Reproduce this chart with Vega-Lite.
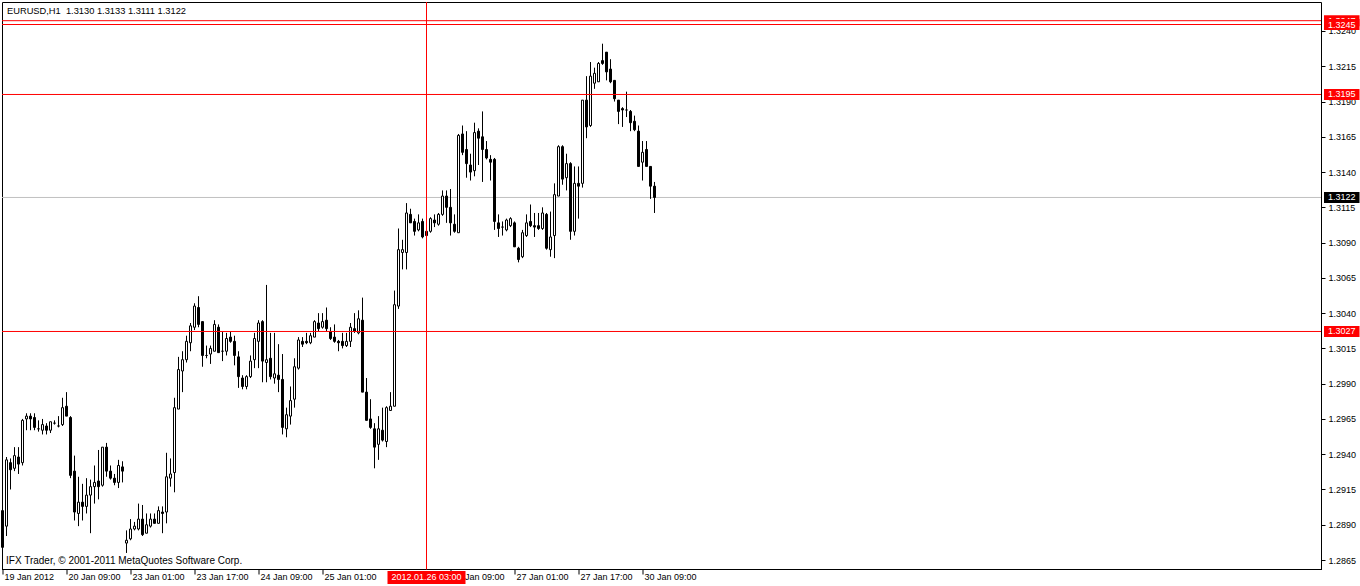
{
"$schema": "https://vega.github.io/schema/vega-lite/v6.json",
"width": 1319,
"height": 567.5,
"autosize": {"type": "none"},
"padding": {"left": 2, "top": 2, "right": 39, "bottom": 17},
"background": "white",
"config": {"view": {"stroke": null}, "scale": {"continuousPadding": 0}},
"datasets": {
"bars": [
{"i":0,"o":1.2900,"h":1.2904,"l":1.2870,"c":1.2874},
{"i":1,"o":1.2889,"h":1.2938,"l":1.2882,"c":1.2936},
{"i":2,"o":1.2934,"h":1.2937,"l":1.2915,"c":1.2929},
{"i":3,"o":1.2930,"h":1.2945,"l":1.2928,"c":1.2939},
{"i":4,"o":1.2938,"h":1.2945,"l":1.2926,"c":1.2933},
{"i":5,"o":1.2934,"h":1.2965,"l":1.2932,"c":1.2964},
{"i":6,"o":1.2965,"h":1.2969,"l":1.2957,"c":1.2967},
{"i":7,"o":1.2967,"h":1.2969,"l":1.2957,"c":1.2965},
{"i":8,"o":1.2966,"h":1.2969,"l":1.2957,"c":1.2959},
{"i":9,"o":1.2958,"h":1.2964,"l":1.2956,"c":1.2958},
{"i":10,"o":1.2957,"h":1.2965,"l":1.2954,"c":1.2961},
{"i":11,"o":1.2960,"h":1.2962,"l":1.2954,"c":1.2957},
{"i":12,"o":1.2957,"h":1.2963,"l":1.2955,"c":1.2963},
{"i":13,"o":1.2962,"h":1.2964,"l":1.2961,"c":1.2962},
{"i":14,"o":1.2960,"h":1.2967,"l":1.2959,"c":1.2960},
{"i":15,"o":1.2961,"h":1.2980,"l":1.2960,"c":1.2973},
{"i":16,"o":1.2974,"h":1.2984,"l":1.2967,"c":1.2967},
{"i":17,"o":1.2966,"h":1.2967,"l":1.2923,"c":1.2925},
{"i":18,"o":1.2928,"h":1.2939,"l":1.2893,"c":1.2899},
{"i":19,"o":1.2898,"h":1.2924,"l":1.2889,"c":1.2906},
{"i":20,"o":1.2906,"h":1.2919,"l":1.2893,"c":1.2903},
{"i":21,"o":1.2903,"h":1.2923,"l":1.2898,"c":1.2911},
{"i":22,"o":1.2911,"h":1.2922,"l":1.2884,"c":1.2917},
{"i":23,"o":1.2917,"h":1.2932,"l":1.2905,"c":1.2920},
{"i":24,"o":1.2921,"h":1.2943,"l":1.2908,"c":1.2917},
{"i":25,"o":1.2918,"h":1.2945,"l":1.2917,"c":1.2945},
{"i":26,"o":1.2945,"h":1.2948,"l":1.2924,"c":1.2928},
{"i":27,"o":1.2928,"h":1.2932,"l":1.2922,"c":1.2923},
{"i":28,"o":1.2923,"h":1.2926,"l":1.2918,"c":1.2920},
{"i":29,"o":1.2920,"h":1.2936,"l":1.2916,"c":1.2932},
{"i":30,"o":1.2931,"h":1.2935,"l":1.2920,"c":1.2928},
{"i":31,"o":1.2877,"h":1.2886,"l":1.2870,"c":1.2879},
{"i":32,"o":1.2880,"h":1.2894,"l":1.2879,"c":1.2887},
{"i":33,"o":1.2887,"h":1.2892,"l":1.2886,"c":1.2889},
{"i":34,"o":1.2887,"h":1.2905,"l":1.2886,"c":1.2894},
{"i":35,"o":1.2894,"h":1.2904,"l":1.2882,"c":1.2883},
{"i":36,"o":1.2884,"h":1.2898,"l":1.2884,"c":1.2890},
{"i":37,"o":1.2889,"h":1.2898,"l":1.2888,"c":1.2894},
{"i":38,"o":1.2894,"h":1.2898,"l":1.2891,"c":1.2891},
{"i":39,"o":1.2891,"h":1.2903,"l":1.2891,"c":1.2900},
{"i":40,"o":1.2899,"h":1.2903,"l":1.2884,"c":1.2898},
{"i":41,"o":1.2899,"h":1.2941,"l":1.2891,"c":1.2924},
{"i":42,"o":1.2923,"h":1.2937,"l":1.2917,"c":1.2926},
{"i":43,"o":1.2927,"h":1.2980,"l":1.2913,"c":1.2973},
{"i":44,"o":1.2972,"h":1.3009,"l":1.2972,"c":1.3000},
{"i":45,"o":1.2999,"h":1.3013,"l":1.2984,"c":1.3007},
{"i":46,"o":1.3007,"h":1.3024,"l":1.3005,"c":1.3020},
{"i":47,"o":1.3019,"h":1.3033,"l":1.3013,"c":1.3031},
{"i":48,"o":1.3030,"h":1.3047,"l":1.3028,"c":1.3045},
{"i":49,"o":1.3044,"h":1.3052,"l":1.3030,"c":1.3032},
{"i":50,"o":1.3034,"h":1.3034,"l":1.3002,"c":1.3010},
{"i":51,"o":1.3010,"h":1.3017,"l":1.3008,"c":1.3010},
{"i":52,"o":1.3011,"h":1.3017,"l":1.3004,"c":1.3015},
{"i":53,"o":1.3013,"h":1.3035,"l":1.3013,"c":1.3032},
{"i":54,"o":1.3030,"h":1.3032,"l":1.3012,"c":1.3012},
{"i":55,"o":1.3013,"h":1.3027,"l":1.3006,"c":1.3013},
{"i":56,"o":1.3013,"h":1.3026,"l":1.3010,"c":1.3022},
{"i":57,"o":1.3023,"h":1.3027,"l":1.3019,"c":1.3020},
{"i":58,"o":1.3020,"h":1.3024,"l":1.3003,"c":1.3010},
{"i":59,"o":1.3009,"h":1.3013,"l":1.2987,"c":1.2995},
{"i":60,"o":1.2994,"h":1.2996,"l":1.2986,"c":1.2988},
{"i":61,"o":1.2988,"h":1.2996,"l":1.2986,"c":1.2995},
{"i":62,"o":1.2995,"h":1.3010,"l":1.2994,"c":1.3006},
{"i":63,"o":1.3007,"h":1.3026,"l":1.3001,"c":1.3022},
{"i":64,"o":1.3020,"h":1.3035,"l":1.3001,"c":1.3033},
{"i":65,"o":1.3034,"h":1.3035,"l":1.2991,"c":1.3006},
{"i":66,"o":1.3005,"h":1.3060,"l":1.2991,"c":1.3007},
{"i":67,"o":1.3008,"h":1.3026,"l":1.2993,"c":1.2995},
{"i":68,"o":1.2994,"h":1.3026,"l":1.2990,"c":1.2997},
{"i":69,"o":1.2996,"h":1.3018,"l":1.2984,"c":1.2993},
{"i":70,"o":1.2993,"h":1.3011,"l":1.2954,"c":1.2959},
{"i":71,"o":1.2958,"h":1.2973,"l":1.2952,"c":1.2968},
{"i":72,"o":1.2967,"h":1.2988,"l":1.2961,"c":1.2978},
{"i":73,"o":1.2979,"h":1.3008,"l":1.2973,"c":1.3002},
{"i":74,"o":1.3001,"h":1.3023,"l":1.3000,"c":1.3021},
{"i":75,"o":1.3020,"h":1.3023,"l":1.3016,"c":1.3018},
{"i":76,"o":1.3020,"h":1.3026,"l":1.3018,"c":1.3019},
{"i":77,"o":1.3019,"h":1.3026,"l":1.3018,"c":1.3024},
{"i":78,"o":1.3023,"h":1.3035,"l":1.3023,"c":1.3034},
{"i":79,"o":1.3033,"h":1.3040,"l":1.3027,"c":1.3029},
{"i":80,"o":1.3030,"h":1.3040,"l":1.3029,"c":1.3034},
{"i":81,"o":1.3035,"h":1.3044,"l":1.3027,"c":1.3029},
{"i":82,"o":1.3027,"h":1.3030,"l":1.3021,"c":1.3022},
{"i":83,"o":1.3023,"h":1.3032,"l":1.3019,"c":1.3020},
{"i":84,"o":1.3020,"h":1.3021,"l":1.3013,"c":1.3019},
{"i":85,"o":1.3020,"h":1.3026,"l":1.3015,"c":1.3017},
{"i":86,"o":1.3017,"h":1.3026,"l":1.3016,"c":1.3020},
{"i":87,"o":1.3020,"h":1.3033,"l":1.3016,"c":1.3030},
{"i":88,"o":1.3029,"h":1.3040,"l":1.3026,"c":1.3027},
{"i":89,"o":1.3026,"h":1.3042,"l":1.3025,"c":1.3036},
{"i":90,"o":1.3035,"h":1.3051,"l":1.2984,"c":1.2984},
{"i":91,"o":1.2984,"h":1.2994,"l":1.2964,"c":1.2964},
{"i":92,"o":1.2965,"h":1.2979,"l":1.2958,"c":1.2959},
{"i":93,"o":1.2958,"h":1.2962,"l":1.2930,"c":1.2945},
{"i":94,"o":1.2947,"h":1.2967,"l":1.2936,"c":1.2958},
{"i":95,"o":1.2957,"h":1.2973,"l":1.2949,"c":1.2950},
{"i":96,"o":1.2949,"h":1.2974,"l":1.2945,"c":1.2973},
{"i":97,"o":1.2971,"h":1.2984,"l":1.2971,"c":1.2974},
{"i":98,"o":1.2974,"h":1.3056,"l":1.2974,"c":1.3046},
{"i":99,"o":1.3045,"h":1.3100,"l":1.3043,"c":1.3085},
{"i":100,"o":1.3083,"h":1.3092,"l":1.3071,"c":1.3085},
{"i":101,"o":1.3083,"h":1.3118,"l":1.3071,"c":1.3111},
{"i":102,"o":1.3110,"h":1.3114,"l":1.3104,"c":1.3104},
{"i":103,"o":1.3105,"h":1.3107,"l":1.3095,"c":1.3098},
{"i":104,"o":1.3099,"h":1.3110,"l":1.3098,"c":1.3104},
{"i":105,"o":1.3105,"h":1.3107,"l":1.3093,"c":1.3094},
{"i":106,"o":1.3098,"h":1.3100,"l":1.3094,"c":1.3095},
{"i":107,"o":1.3098,"h":1.3108,"l":1.3097,"c":1.3107},
{"i":108,"o":1.3106,"h":1.3110,"l":1.3101,"c":1.3104},
{"i":109,"o":1.3103,"h":1.3111,"l":1.3102,"c":1.3110},
{"i":110,"o":1.3110,"h":1.3127,"l":1.3109,"c":1.3123},
{"i":111,"o":1.3123,"h":1.3127,"l":1.3104,"c":1.3115},
{"i":112,"o":1.3115,"h":1.3128,"l":1.3095,"c":1.3104},
{"i":113,"o":1.3103,"h":1.3110,"l":1.3097,"c":1.3098},
{"i":114,"o":1.3097,"h":1.3167,"l":1.3097,"c":1.3166},
{"i":115,"o":1.3167,"h":1.3173,"l":1.3152,"c":1.3154},
{"i":116,"o":1.3156,"h":1.3169,"l":1.3136,"c":1.3146},
{"i":117,"o":1.3145,"h":1.3153,"l":1.3134,"c":1.3140},
{"i":118,"o":1.3141,"h":1.3175,"l":1.3137,"c":1.3168},
{"i":119,"o":1.3169,"h":1.3171,"l":1.3145,"c":1.3164},
{"i":120,"o":1.3165,"h":1.3183,"l":1.3133,"c":1.3156},
{"i":121,"o":1.3156,"h":1.3162,"l":1.3149,"c":1.3150},
{"i":122,"o":1.3149,"h":1.3152,"l":1.3134,"c":1.3147},
{"i":123,"o":1.3149,"h":1.3150,"l":1.3099,"c":1.3105},
{"i":124,"o":1.3104,"h":1.3110,"l":1.3094,"c":1.3100},
{"i":125,"o":1.3101,"h":1.3105,"l":1.3095,"c":1.3101},
{"i":126,"o":1.3099,"h":1.3107,"l":1.3098,"c":1.3106},
{"i":127,"o":1.3102,"h":1.3108,"l":1.3101,"c":1.3107},
{"i":128,"o":1.3104,"h":1.3105,"l":1.3087,"c":1.3087},
{"i":129,"o":1.3086,"h":1.3087,"l":1.3076,"c":1.3078},
{"i":130,"o":1.3080,"h":1.3099,"l":1.3079,"c":1.3097},
{"i":131,"o":1.3095,"h":1.3110,"l":1.3094,"c":1.3104},
{"i":132,"o":1.3105,"h":1.3117,"l":1.3101,"c":1.3102},
{"i":133,"o":1.3102,"h":1.3111,"l":1.3094,"c":1.3101},
{"i":134,"o":1.3102,"h":1.3111,"l":1.3099,"c":1.3100},
{"i":135,"o":1.3100,"h":1.3115,"l":1.3099,"c":1.3111},
{"i":136,"o":1.3110,"h":1.3111,"l":1.3085,"c":1.3086},
{"i":137,"o":1.3085,"h":1.3112,"l":1.3080,"c":1.3094},
{"i":138,"o":1.3095,"h":1.3132,"l":1.3079,"c":1.3124},
{"i":139,"o":1.3123,"h":1.3159,"l":1.3123,"c":1.3158},
{"i":140,"o":1.3158,"h":1.3159,"l":1.3131,"c":1.3135},
{"i":141,"o":1.3136,"h":1.3153,"l":1.3127,"c":1.3146},
{"i":142,"o":1.3146,"h":1.3147,"l":1.3092,"c":1.3098},
{"i":143,"o":1.3098,"h":1.3144,"l":1.3095,"c":1.3132},
{"i":144,"o":1.3132,"h":1.3144,"l":1.3107,"c":1.3130},
{"i":145,"o":1.3132,"h":1.3191,"l":1.3129,"c":1.3191},
{"i":146,"o":1.3191,"h":1.3208,"l":1.3164,"c":1.3172},
{"i":147,"o":1.3173,"h":1.3218,"l":1.3172,"c":1.3208},
{"i":148,"o":1.3203,"h":1.3214,"l":1.3199,"c":1.3210},
{"i":149,"o":1.3204,"h":1.3218,"l":1.3204,"c":1.3217},
{"i":150,"o":1.3219,"h":1.3231,"l":1.3216,"c":1.3217},
{"i":151,"o":1.3225,"h":1.3225,"l":1.3205,"c":1.3211},
{"i":152,"o":1.3213,"h":1.3220,"l":1.3203,"c":1.3204},
{"i":153,"o":1.3205,"h":1.3205,"l":1.3190,"c":1.3192},
{"i":154,"o":1.3191,"h":1.3191,"l":1.3174,"c":1.3183},
{"i":155,"o":1.3185,"h":1.3186,"l":1.3172,"c":1.3184},
{"i":156,"o":1.3184,"h":1.3197,"l":1.3179,"c":1.3184},
{"i":157,"o":1.3183,"h":1.3184,"l":1.3169,"c":1.3175},
{"i":158,"o":1.3176,"h":1.3180,"l":1.3169,"c":1.3170},
{"i":159,"o":1.3169,"h":1.3173,"l":1.3144,"c":1.3144},
{"i":160,"o":1.3147,"h":1.3162,"l":1.3134,"c":1.3154},
{"i":161,"o":1.3156,"h":1.3162,"l":1.3144,"c":1.3144},
{"i":162,"o":1.3144,"h":1.3144,"l":1.3121,"c":1.3130},
{"i":163,"o":1.3130,"h":1.3133,"l":1.3111,"c":1.3122}
],
"levels": [
{"price":1.32473,"kind":"level","label":"1.3247"},
{"price":1.32446,"kind":"level","label":"1.3245"},
{"price":1.3195,"kind":"level","label":"1.3195"},
{"price":1.3027,"kind":"level","label":"1.3027"},
{"price":1.3122,"kind":"bid","label":"1.3122"}
],
"vline": [
{"i":106,"label":"2012.01.26 03:00"}
],
"header": [{"text":"EURUSD,H1\u00a0 1.3130 1.3133 1.3111 1.3122"}],
"footer": [{"text":"IFX Trader, \u00a9 2001-2011 MetaQuotes Software Corp."}]
},
"layer": [
{
"data": {"name": "levels"},
"transform": [{"filter": "datum.kind === 'bid'"}],
"mark": {"type": "rule", "stroke": "#C0C0C0", "strokeWidth": 1},
"encoding": {
"y": {"field": "price", "type": "quantitative", "scale": {"domain": [1.285827, 1.3260557], "zero": false, "nice": false, "padding": 0}, "axis": null}
}
},
{
"data": {"name": "bars"},
"mark": {"type": "rule", "stroke": "black", "strokeWidth": 1},
"encoding": {
"x": {"field": "i", "type": "quantitative", "scale": {"domain": [-0.125, 329.625], "zero": false, "nice": false, "padding": 0},
"axis": {"orient": "bottom", "values": [0,16,32,48,64,80,112,128,144,160], "labelExpr": "['19 Jan 2012','20 Jan 09:00','23 Jan 01:00','23 Jan 17:00','24 Jan 09:00','25 Jan 01:00','25 Jan 17:00','26 Jan 09:00','27 Jan 01:00','27 Jan 17:00','30 Jan 09:00'][round(datum.value/16)]", "translate": 0, "tickSize": 5, "tickColor": "black", "domainColor": "black", "labelAlign": "left", "labelOffset": 2, "labelBaseline": "top", "labelPadding": -2, "labelFont": "Liberation Sans", "labelFontSize": 9, "labelColor": "black", "labelOverlap": false, "labelFlush": false, "labelBound": false, "grid": false, "title": null}},
"y": {"field": "l", "type": "quantitative", "scale": {"domain": [1.285827, 1.3260557], "zero": false, "nice": false, "padding": 0},
"axis": {"orient": "right", "values": [1.2865,1.289,1.2915,1.294,1.2965,1.299,1.3015,1.304,1.3065,1.309,1.3115,1.314,1.3165,1.319,1.3215,1.324], "format": ".4f", "tickSize": 4, "tickColor": "black", "domainColor": "black", "labelPadding": 3, "labelFont": "Liberation Sans", "labelFontSize": 9, "labelColor": "black", "labelBaseline": "middle", "labelAlign": "left", "labelOverlap": false, "labelFlush": false, "labelBound": false, "grid": false, "title": null}},
"y2": {"field": "h"}
}
},
{
"data": {"name": "bars"},
"mark": {"type": "bar", "size": 2, "stroke": "black", "strokeWidth": 1},
"encoding": {
"x": {"field": "i", "type": "quantitative", "scale": {"domain": [-0.125, 329.625], "zero": false, "nice": false, "padding": 0},
"axis": {"orient": "top", "labels": false, "ticks": false, "domain": true, "domainColor": "black", "grid": false, "title": null}},
"y": {"field": "o", "type": "quantitative", "scale": {"domain": [1.285827, 1.3260557], "zero": false, "nice": false, "padding": 0},
"axis": {"orient": "left", "labels": false, "ticks": false, "domain": true, "domainColor": "black", "grid": false, "title": null}},
"y2": {"field": "c"},
"fill": {"condition": {"test": "datum.c < datum.o", "value": "black"}, "value": "white"}
}
},
{
"data": {"name": "levels"},
"transform": [{"filter": "datum.kind === 'level'"}],
"mark": {"type": "rule", "stroke": "#FF0000", "strokeWidth": 1},
"encoding": {
"y": {"field": "price", "type": "quantitative", "scale": {"domain": [1.285827, 1.3260557], "zero": false, "nice": false, "padding": 0}, "axis": null}
}
},
{
"data": {"name": "vline"},
"mark": {"type": "rule", "stroke": "#FF0000", "strokeWidth": 1},
"encoding": {
"x": {"field": "i", "type": "quantitative", "scale": {"domain": [-0.125, 329.625], "zero": false, "nice": false, "padding": 0}, "axis": null}
}
},
{
"data": {"name": "levels"},
"transform": [{"filter": "datum.label === '1.3247'"}],
"mark": {"type": "bar", "size": 11},
"encoding": {
"x": {"datum": 330.375, "type": "quantitative", "scale": {"domain": [-0.125, 329.625], "zero": false, "nice": false, "padding": 0}, "axis": null},
"x2": {"datum": 339.25},
"y": {"field": "price", "type": "quantitative", "scale": {"domain": [1.285827, 1.3260557], "zero": false, "nice": false, "padding": 0}, "axis": null},
"fill": {"value": "#FF0000"}
}
},
{
"data": {"name": "levels"},
"transform": [{"filter": "datum.label === '1.3247'"}],
"mark": {"type": "text", "font": "Liberation Sans", "fontSize": 9, "color": "white", "align": "center", "baseline": "middle"},
"encoding": {
"x": {"datum": 334.8, "type": "quantitative", "scale": {"domain": [-0.125, 329.625], "zero": false, "nice": false, "padding": 0}, "axis": null},
"y": {"field": "price", "type": "quantitative", "scale": {"domain": [1.285827, 1.3260557], "zero": false, "nice": false, "padding": 0}, "axis": null},
"text": {"field": "label"}
}
},
{
"data": {"name": "levels"},
"transform": [{"filter": "datum.label !== '1.3247'"}],
"mark": {"type": "bar", "size": 11},
"encoding": {
"x": {"datum": 330.375, "type": "quantitative", "scale": {"domain": [-0.125, 329.625], "zero": false, "nice": false, "padding": 0}, "axis": null},
"x2": {"datum": 339.25},
"y": {"field": "price", "type": "quantitative", "scale": {"domain": [1.285827, 1.3260557], "zero": false, "nice": false, "padding": 0}, "axis": null},
"fill": {"condition": {"test": "datum.kind === 'bid'", "value": "black"}, "value": "#FF0000"}
}
},
{
"data": {"name": "levels"},
"transform": [{"filter": "datum.label !== '1.3247'"}],
"mark": {"type": "text", "font": "Liberation Sans", "fontSize": 9, "color": "white", "align": "center", "baseline": "middle"},
"encoding": {
"x": {"datum": 334.8, "type": "quantitative", "scale": {"domain": [-0.125, 329.625], "zero": false, "nice": false, "padding": 0}, "axis": null},
"y": {"field": "price", "type": "quantitative", "scale": {"domain": [1.285827, 1.3260557], "zero": false, "nice": false, "padding": 0}, "axis": null},
"text": {"field": "label"}
}
},
{
"data": {"name": "vline"},
"mark": {"type": "bar", "size": 78, "fill": "#FF0000"},
"encoding": {
"x": {"field": "i", "type": "quantitative", "scale": {"domain": [-0.125, 329.625], "zero": false, "nice": false, "padding": 0}, "axis": null},
"y": {"datum": 1.285722, "type": "quantitative", "scale": {"domain": [1.285827, 1.3260557], "zero": false, "nice": false, "padding": 0}, "axis": null},
"y2": {"datum": 1.2848}
}
},
{
"data": {"name": "vline"},
"mark": {"type": "text", "font": "Liberation Sans", "fontSize": 9, "color": "white", "align": "center", "baseline": "middle"},
"encoding": {
"x": {"field": "i", "type": "quantitative", "scale": {"domain": [-0.125, 329.625], "zero": false, "nice": false, "padding": 0}, "axis": null},
"y": {"datum": 1.28526, "type": "quantitative", "scale": {"domain": [1.285827, 1.3260557], "zero": false, "nice": false, "padding": 0}, "axis": null},
"text": {"field": "label"}
}
},
{
"data": {"name": "header"},
"mark": {"type": "text", "font": "Liberation Sans", "fontSize": 9.3, "color": "black", "align": "left", "baseline": "middle"},
"encoding": {
"x": {"datum": 1.125, "type": "quantitative", "scale": {"domain": [-0.125, 329.625], "zero": false, "nice": false, "padding": 0}, "axis": null},
"y": {"datum": 1.325418, "type": "quantitative", "scale": {"domain": [1.285827, 1.3260557], "zero": false, "nice": false, "padding": 0}, "axis": null},
"text": {"field": "text"}
}
},
{
"data": {"name": "footer"},
"mark": {"type": "text", "font": "Liberation Sans", "fontSize": 10, "color": "black", "align": "left", "baseline": "middle"},
"encoding": {
"x": {"datum": 0.875, "type": "quantitative", "scale": {"domain": [-0.125, 329.625], "zero": false, "nice": false, "padding": 0}, "axis": null},
"y": {"datum": 1.28643, "type": "quantitative", "scale": {"domain": [1.285827, 1.3260557], "zero": false, "nice": false, "padding": 0}, "axis": null},
"text": {"field": "text"}
}
}
],
"resolve": {"axis": {"x": "independent", "y": "independent"}}
}
